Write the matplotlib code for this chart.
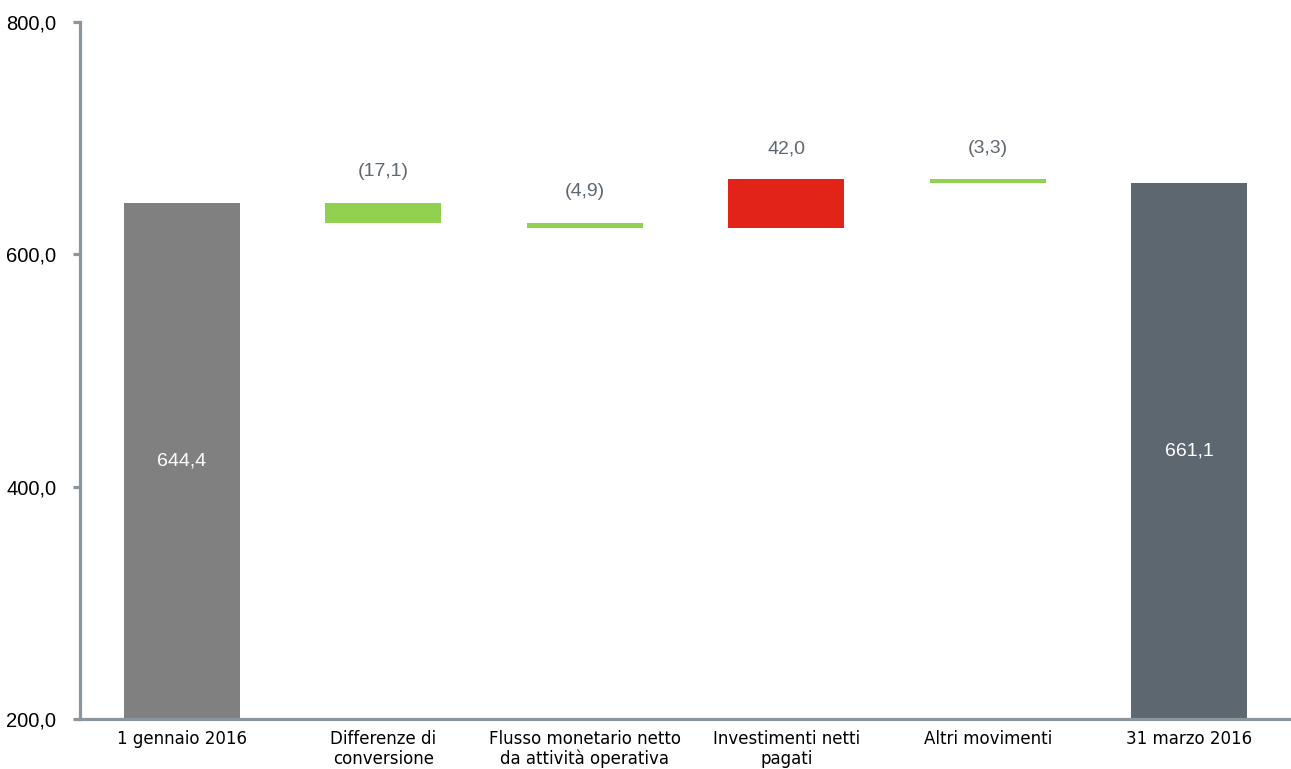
import numpy as np
import matplotlib.pyplot as plt

# Dati del grafico a cascata
categorie = ["1 gennaio 2016", "Differenze di\nconversione",
             "Flusso monetario netto\nda attività operativa",
             "Investimenti netti\npagati", "Altri movimenti", "31 marzo 2016"]
inizio = 644.4
variazioni = [-17.1, -4.9, 42.0, -3.3]
fine = 661.1
etichette_var = ["(17,1)", "(4,9)", "42,0", "(3,3)"]

y_ticks = [200, 400, 600, 800]

col_inizio = "#808080"
col_fine = "#5d6770"
col_neg = "#92d050"
col_pos = "#e2231a"
col_asse = "#8c959b"
col_testo = "#5f6870"

fig = plt.figure(figsize=(12.91, 7.69), dpi=100)
ax = fig.add_axes([0.062, 0.065, 0.938, 0.9065])

x = np.arange(len(categorie))
w = 0.576
base = 200

# barra iniziale
ax.bar(x[0], inizio - base, bottom=base, width=w, color=col_inizio)
ax.text(x[0], (inizio + base) / 2, "644,4", ha="center", va="center",
        color="white", fontsize=14, family="Liberation Sans")

# barre intermedie
livello = inizio
for i, v in enumerate(variazioni):
    nuovo = livello + v
    basso = min(livello, nuovo)
    alto = max(livello, nuovo)
    ax.bar(x[i + 1], alto - basso, bottom=basso, width=w,
           color=col_pos if v > 0 else col_neg)
    ax.annotate(etichette_var[i], (x[i + 1], alto), xytext=(0, 16),
                textcoords="offset points", ha="center", va="bottom",
                color=col_testo, fontsize=14, family="Liberation Sans")
    livello = nuovo

# barra finale
ax.bar(x[-1], fine - base, bottom=base, width=w, color=col_fine)
ax.text(x[-1], (fine + base) / 2, "661,1", ha="center", va="center",
        color="white", fontsize=14, family="Liberation Sans")

ax.set_xlim(-0.506, 5.506)
ax.set_ylim(200, 800)
ax.set_yticks(y_ticks)
ax.set_yticklabels([f"{t:.1f}".replace(".", ",") for t in y_ticks],
                   family="Liberation Sans", fontsize=14.5)
ax.set_xticks(x)
ax.set_xticklabels(categorie, fontsize=12, linespacing=1.1)

for s in ["top", "right"]:
    ax.spines[s].set_visible(False)
for s in ["left", "bottom"]:
    ax.spines[s].set_color(col_asse)
    ax.spines[s].set_linewidth(2.3)
ax.tick_params(axis="y", length=5, width=2.3, color=col_asse, pad=12)
ax.tick_params(axis="x", length=0, pad=8)

plt.savefig("out.png", dpi=100)
